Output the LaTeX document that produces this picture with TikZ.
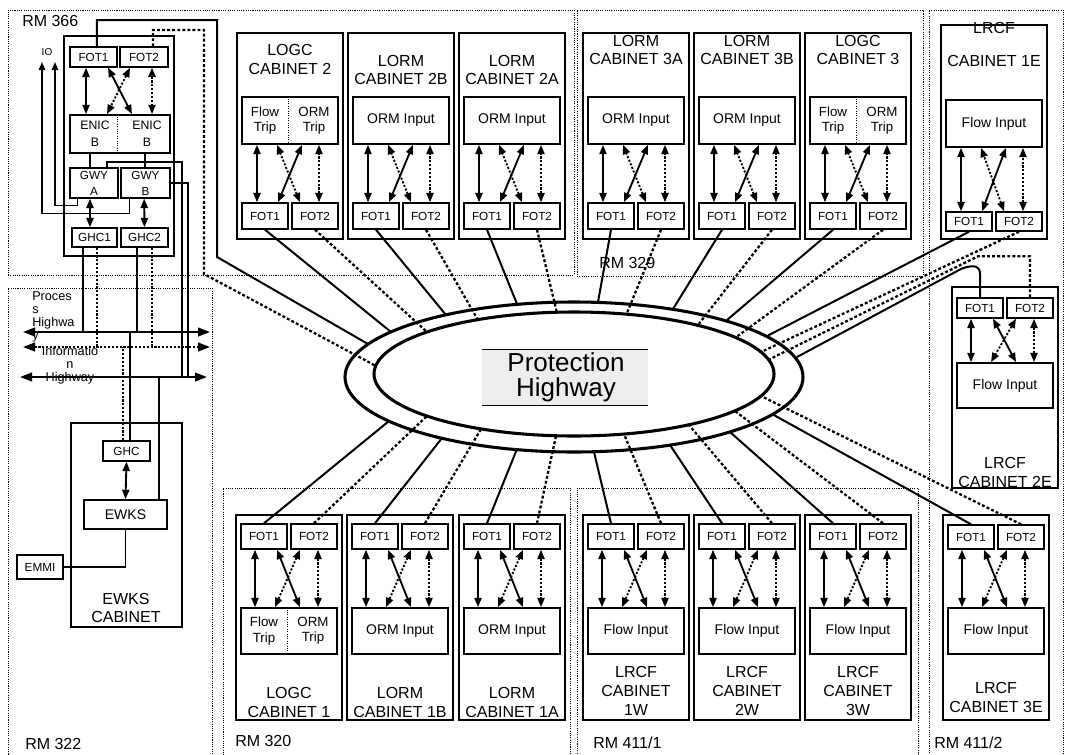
\documentclass[tikz,border=0pt]{standalone}
\usepackage{fontspec}
\setmainfont{Liberation Sans}
\usetikzlibrary{arrows.meta,fit,shapes.geometric,calc}
\tikzset{
  >={Triangle[length=7pt,width=5.4pt]},
  room/.style={draw,line width=0.6pt,dash pattern=on 0.8pt off 0.9pt,inner sep=0pt},
  roomlbl/.style={font=\fontsize{12}{14}\selectfont,anchor=west,inner sep=0pt},
  cab/.style={draw,line width=1.5pt,inner sep=0pt},
  fottxt/.style={inner sep=0pt,align=center,font=\fontsize{8.8}{12}\selectfont},
  cardtxt/.style={inner sep=0pt,align=center,font=\fontsize{10.5}{12}\selectfont},
  card/.style={draw,line width=1.3pt,inner sep=0pt,label={[cardtxt]center:#1}},
  card/.default={},
  fot/.style={draw,line width=1.1pt,inner sep=0pt,label={[fottxt]center:#1}},
  fot/.default={},
  cabttl/.style={align=center,inner sep=0pt,font=\fontsize{12}{14}\selectfont},
  splittxt/.style={align=center,inner sep=0pt,font=\fontsize{10}{11.5}\selectfont},
  divider/.style={line width=0.7pt,dash pattern=on 0.8pt off 1pt},
  link/.style={<->,line width=1.4pt},
  linkd/.style={link,dash pattern=on 1.6pt off 1.3pt},
  wire/.style={line width=1.2pt},
  wired/.style={wire,dash pattern=on 1.6pt off 1.3pt},
  iowire/.style={line width=1.1pt,-{Triangle[length=6pt,width=4.8pt]}},
  hwy/.style={line width=1.5pt},
  hwyd/.style={line width=1.7pt,dash pattern=on 2.2pt off 1.6pt},
  ring/.style={draw,ellipse,line width=2.3pt,inner sep=0pt},
  bus/.style={{Triangle[length=9pt,width=6.5pt]}-{Triangle[length=9pt,width=6.5pt]},line width=1.5pt},
  busd/.style={bus,dash pattern=on 1.6pt off 1.3pt},
  buslbl/.style={inner sep=0pt,font=\fontsize{9.5}{9.75}\selectfont},
  phbox/.style={fill=black!7,inner sep=0pt},
  phtxt/.style={align=center,inner sep=0pt,font=\fontsize{19.5}{19}\selectfont},
}
\begin{document}
\begin{tikzpicture}[x=0.75pt,y=-0.75pt]
  \useasboundingbox (0,0) rectangle (1066,754);

  % rooms
  \node[room,fit={(8,10)(574,275)}] (rm366) {};
  \node[room,fit={(577,10)(923,276)}] (rm329) {};
  \node[room,fit={(929,10)(1063,770)}] (rm4112) {};
  \node[room,fit={(8,288)(212,770)}] (rm322) {};
  \node[room,fit={(223,488)(570,770)}] (rm320) {};
  \node[room,fit={(577,488)(918,770)}] (rm4111) {};
  \node[roomlbl] (rm366-t) at (22,21) {RM 366};
  \node[roomlbl] (rm329-t) at (599,263) {RM 329};
  \node[roomlbl] (rm322-t) at (25,744) {RM 322};
  \node[roomlbl] (rm320-t) at (235,741) {RM 320};
  \node[roomlbl] (rm4111-t) at (593,743) {RM 411/1};
  \node[roomlbl] (rm4112-t) at (934,743) {RM 411/2};

  % protection highway
  \node[ring,minimum width=343.5pt,minimum height=112.5pt] (hw-out) at (574,377) {};
  \node[ring,minimum width=300pt,minimum height=93pt] (hw-in) at (574,374) {};
  \node[phbox,fit={(482,350)(648,405)}] (phw) {};
  \draw[line width=0.8pt] (phw.north west) -- (phw.north east)
                          (phw.south west) -- (phw.south east);
  \node[phtxt] (phw-t) at (566,377) {Protection\\Highway};

  % where the links meet the rings (o = outer, i = inner)
  \foreach \nm/\ox/\oy/\ix/\iy in {gw/368/344/376/366, c2/391/332/427/332,
      c2b/446/315/478/320, c2a/517/304/557/313, c3a/598/302/627/313,
      c3b/673/309/698/325, c3/727/320/735/338, c1e/767/336/761/352,
      c2e/797/357/768/360, c3e/772/414/761/396, c3w/730/432/735/411,
      c2w/670/445/689/425, c1w/594/452/624/434, c1a/517/449/556/436,
      c1b/442/438/481/429, c1/389/421/427/416}{
    \coordinate (o-\nm) at (\ox,\oy);
    \coordinate (i-\nm) at (\ix,\iy);
  }

  % cabinets with the converters below the card
  \foreach \nm/\xx/\ya/\yc/\yd/\ye/\yf/\ct/\ty/\tl in {
      c2/237/33/97/144/203/229/{}/59.5/{LOGC\\CABINET 2},
      c2b/348/33/97/144/203/229/ORM Input/70/{LORM\\CABINET 2B},
      c2a/459/33/97/144/203/229/ORM Input/70/{LORM\\CABINET 2A},
      c3a/583/33/97/144/203/229/ORM Input/50/{LORM\\CABINET 3A},
      c3b/694/33/97/144/203/229/ORM Input/50/{LORM\\CABINET 3B},
      c3/805/33/97/144/203/229/{}/50/{LOGC\\CABINET 3},
      c1e/941/25/100/147/212/231/Flow Input/44.5/{LRCF\\[10.5pt]CABINET 1E}}{
    \node[cab,fit={(\xx,\ya)({\xx+106},239)}] (\nm) {};
    \node[card=\ct,fit={({\xx+5},\yc)({\xx+101},\yd)}] (\nm-in) {};
    \node[fot=FOT1,fit={({\xx+5},\ye)({\xx+51},\yf)}] (\nm-f1) {};
    \node[fot=FOT2,fit={({\xx+55},\ye)({\xx+101},\yf)}] (\nm-f2) {};
    \node[cabttl] (\nm-t) at ({\xx+53},\ty) {\tl};
    \draw[link] ([xshift=-6pt]\nm-f1.north) -- ([xshift=-24.75pt]\nm-in.south);
    \draw[link] ([xshift=9.75pt]\nm-f1.north) -- ([xshift=9pt]\nm-in.south);
    \draw[linkd] ([xshift=-11.25pt]\nm-f2.north) -- ([xshift=-9.75pt]\nm-in.south);
    \draw[linkd] ([xshift=3pt]\nm-f2.north) -- ([xshift=21.75pt]\nm-in.south);
  }

  % cabinets with the converters above the card
  \foreach \nm/\xx/\ya/\yb/\ye/\yf/\yc/\yd/\ct/\ty/\tl in {
      c1/236/515/720/524/549/608/654/{}/702.5/{LOGC\\CABINET 1},
      c1b/347/515/720/524/549/608/654/ORM Input/702.5/{LORM\\CABINET 1B},
      c1a/459/515/720/524/549/608/654/ORM Input/702.5/{LORM\\CABINET 1A},
      c1w/583/515/720/524/549/608/654/Flow Input/691/{LRCF\\CABINET\\1W},
      c2w/694/515/720/524/549/608/654/Flow Input/691/{LRCF\\CABINET\\2W},
      c3w/805/515/720/524/549/608/654/Flow Input/691/{LRCF\\CABINET\\3W},
      c3e/943/515/720/525/549/608/654/Flow Input/697.5/{LRCF\\CABINET 3E},
      c2e/952/287/488/298/318/363/408/Flow Input/472.5/{LRCF\\CABINET 2E}}{
    \node[cab,fit={(\xx,\ya)({\xx+106},\yb)}] (\nm) {};
    \node[fot=FOT1,fit={({\xx+5},\ye)({\xx+51},\yf)}] (\nm-f1) {};
    \node[fot=FOT2,fit={({\xx+55},\ye)({\xx+101},\yf)}] (\nm-f2) {};
    \node[card=\ct,fit={({\xx+5},\yc)({\xx+101},\yd)}] (\nm-in) {};
    \node[cabttl] (\nm-t) at ({\xx+53},\ty) {\tl};
    \draw[link] ([xshift=-6.75pt]\nm-f1.south) -- ([xshift=-25.5pt]\nm-in.north);
    \draw[link] ([xshift=9.75pt]\nm-f1.south) -- ([xshift=8.25pt]\nm-in.north);
    \draw[linkd] ([xshift=-10.5pt]\nm-f2.south) -- ([xshift=-10.5pt]\nm-in.north);
    \draw[linkd] ([xshift=3pt]\nm-f2.south) -- ([xshift=21.75pt]\nm-in.north);
  }

  % logic cards split in two
  \foreach \nm in {c2,c3,c1}{
    \draw[divider] ([xshift=-1.5pt]\nm-in.north) -- ([xshift=-1.5pt]\nm-in.south);
    \node[splittxt] (\nm-l) at ([xshift=-18.75pt]\nm-in.center) {Flow\\Trip};
    \node[splittxt] (\nm-r) at ([xshift=18pt]\nm-in.center) {ORM\\Trip};
  }

  % fibre links to the protection highway
  \foreach \nm in {c2,c2b,c2a,c3a,c3b,c3,c1e}{
    \draw[hwy] (\nm-f1.south) -- (o-\nm);
    \draw[hwyd] (\nm-f2.south) -- (i-\nm);
  }
  \foreach \nm in {c1,c1b,c1a,c1w,c2w,c3w,c3e}{
    \draw[hwy] (\nm-f1.north) -- (o-\nm);
    \draw[hwyd] (\nm-f2.north) -- (i-\nm);
  }
  \draw[hwy,rounded corners=5pt] (c2e-f1.north) -- ++(0,-31) -- ++(-14,0) -- (o-c2e);
  \draw[hwyd] (c2e-f2.north) -- ++(0,-41) -- ++(-52,0) -- (i-c2e);

  % gateway block in RM 366
  \node[cab,fit={(64,36)(174,256)}] (gw) {};
  \node[fot=FOT1,fit={(70,47)(117,67)}] (gw-f1) {};
  \node[fot=FOT2,fit={(120,47)(168,67)}] (gw-f2) {};
  \node[fot,line width=1.3pt,fit={(70,115)(170,153)}] (enic) {};
  \draw[divider] ([xshift=-2.25pt]enic.north) -- ([xshift=-2.25pt]enic.south);
  \node[fottxt,font=\fontsize{9.2}{12.5}\selectfont] (enic-a) at (95,133.5) {ENIC\\B};
  \node[fottxt,font=\fontsize{9.2}{12.5}\selectfont] (enic-b) at (147,133.5) {ENIC\\B};
  \node[fot={GWY\\A},fit={(70,168)(118,198)}] (gwa) {};
  \node[fot={GWY\\B},fit={(121,168)(170,198)}] (gwb) {};
  \node[fot=GHC1,fit={(72,228)(117,247)}] (ghc1) {};
  \node[fot=GHC2,fit={(121,228)(168,247)}] (ghc2) {};
  \draw[link] ([xshift=-5.6pt]gw-f1.south) -- ([xshift=-25.5pt]enic.north);
  \draw[link] ([xshift=10.9pt]gw-f1.south) -- ([xshift=9pt]enic.north);
  \draw[linkd] ([xshift=-10.5pt]gw-f2.south) -- ([xshift=-9.75pt]enic.north);
  \draw[linkd] ([xshift=6pt]gw-f2.south) -- ([xshift=24pt]enic.north);
  \draw[wire] ([xshift=-22.5pt]enic.south) -- ([xshift=-3pt]gwa.north);
  \draw[wire] ([xshift=18.75pt]enic.south) -- ([xshift=-0.4pt]gwb.north);
  \draw[link] ([xshift=-3pt]gwa.south) -- ([xshift=-3.4pt]ghc1.north);
  \draw[link] ([xshift=-1pt]gwb.south) -- (ghc2.north);
  \draw[hwy] ([xshift=2.6pt]gw-f1.north) |- (217,20) -- (217,257) -- (o-gw);
  \draw[hwyd] ([xshift=6.75pt]gw-f2.north) |- (204,30) -- (204,274) -- (i-gw);

  % IO
  \coordinate (io-a) at (55,62);
  \coordinate (io-b) at (42,62);
  \draw[iowire] ([xshift=6pt]gwa.south west) -- ++(0,7) -| (io-a);
  \draw[iowire] ([xshift=6.75pt]gwb.south west) -- ++(0,15) -| (io-b);
  \node[inner sep=0pt,font=\fontsize{7.5}{9}\selectfont] (io) at (47,52) {IO};

  % plant highways
  \coordinate (ph-l) at (23,332);  \coordinate (ph-r) at (210,332);
  \coordinate (ih-l) at (23,347);  \coordinate (ih-r) at (210,347);
  \coordinate (eh-l) at (20,377);  \coordinate (eh-r) at (207,377);
  \draw[bus] (ph-l) -- (ph-r);
  \draw[busd] (ih-l) -- (ih-r);
  \draw[bus] (eh-l) -- (eh-r);
  \node[buslbl,anchor=west,align=left] (ph-t) at (32,316.5) {Proces\\s\\Highwa\\y};
  \node[buslbl,align=center] (ih-t) at (70,365) {Informatio\\n\\Highway};

  \coordinate (gwa-x) at (182,377);
  \coordinate (gwb-x) at (188,377);
  \draw[wire] ([xshift=9.75pt]gwa.north) -- ++(0,-5) -| (gwa-x);
  \draw[wire] (gwb.east) -| (gwb-x);
  \draw[wire] ([xshift=-8.6pt]ghc1.south) -- ([xshift=-8.6pt]ghc1.south |- ph-l);
  \draw[wired] ([xshift=2pt]ghc1.south) -- ([xshift=2pt]ghc1.south |- ih-l);
  \draw[wire] ([xshift=-5.6pt]ghc2.south) -- ([xshift=-5.6pt]ghc2.south |- ph-l);
  \draw[wired] ([xshift=5.6pt]ghc2.south) -- ([xshift=5.6pt]ghc2.south |- ih-l);

  % engineering workstation
  \node[cab,fit={(71,423)(182,627)}] (ew) {};
  \node[fot=GHC,fit={(103,441)(150,461)}] (ew-ghc) {};
  \node[card=EWKS,fit={(84,500)(167,529)}] (ew-wks) {};
  \node[fot=EMMI,fit={(17,555)(63,579)}] (emmi) {};
  \node[cabttl] (ew-t) at (126,608) {EWKS\\CABINET};
  \draw[link] (ew-ghc.south) -- (ew-wks.north);
  \draw[wire] (ew-wks.south) |- (emmi.east);
  \draw[wire] ([xshift=2.6pt]ew-ghc.north) -- ([xshift=2.6pt]ew-ghc.north |- ph-l);
  \draw[wired] ([xshift=-2.6pt]ew-ghc.north) -- ([xshift=-2.6pt]ew-ghc.north |- ih-l);
  \draw[wire] ([xshift=25pt]ew-wks.north) -- ([xshift=25pt]ew-wks.north |- eh-l);
\end{tikzpicture}
\end{document}
